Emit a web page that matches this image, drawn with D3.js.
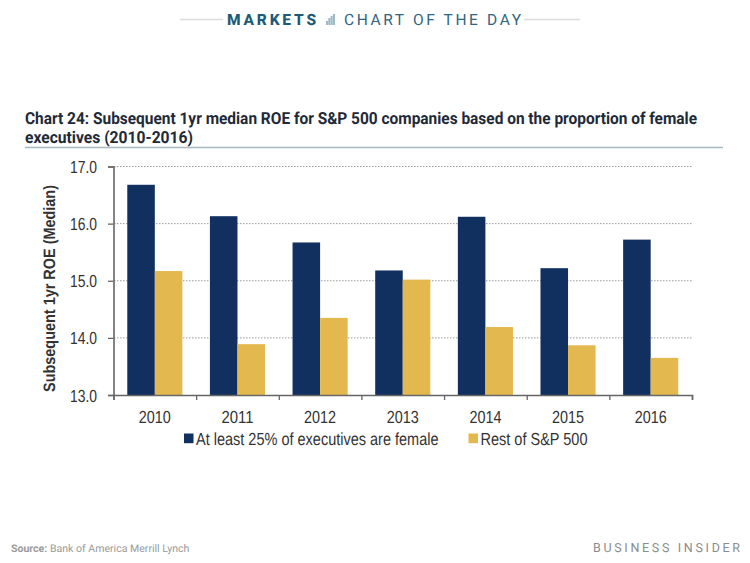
<!DOCTYPE html>
<html><head><meta charset="utf-8">
<script src="https://cdnjs.cloudflare.com/ajax/libs/d3/7.8.5/d3.min.js"></script>
<style>
html,body{margin:0;padding:0;background:#fff}
svg{display:block}
text{text-rendering:geometricPrecision}
</style></head><body><svg id="c" width="750" height="563"></svg>
<script>
const years=["2010","2011","2012","2013","2014","2015","2016"];
const femaleExecs=[16.68,16.13,15.67,15.18,16.12,15.22,15.72];
const restOfSP=[15.17,13.89,14.35,15.02,14.19,13.87,13.65];
const seriesNames=["At least 25% of executives are female","Rest of S&P 500"];
const seriesColors=["#11305f","#e3b94f"];
const yTicks=[13,14,15,16,17];
const titleLines=["Chart 24: Subsequent 1yr median ROE for S&P 500 companies based on the proportion of female","executives (2010-2016)"];

const svg=d3.select("#c");
const sans="'Liberation Sans',Arial,sans-serif";
const y=d3.scaleLinear().domain([13,17]).range([395,166.5]);
const x=d3.scaleBand().domain(years).range([113.5,692]).paddingInner(1/3).paddingOuter(1/6);
const inner=d3.scaleBand().domain([0,1]).range([0,x.bandwidth()]);
const edge=d3.scaleLinear().domain([0,7]).range([113.5,692]);

// squeeze a text horizontally to a target width, keeping its full height
function squeeze(node,px,py,w,rot){
  const n=node.getComputedTextLength();
  node.setAttribute("x",0);node.setAttribute("y",0);node.removeAttribute("dy");
  node.setAttribute("transform",`translate(${px},${py})${rot?` rotate(${rot})`:""} scale(${w/n},1)`);
}

// header
const hdr=svg.append("g");
hdr.append("line").attr("x1",180).attr("x2",223).attr("y1",19.5).attr("y2",19.5).attr("stroke","#dcdcdc").attr("stroke-width",1.5);
hdr.append("line").attr("x1",524).attr("x2",580).attr("y1",19.5).attr("y2",19.5).attr("stroke","#dcdcdc").attr("stroke-width",1.5);
hdr.append("text").attr("x",227).attr("y",25).attr("textLength",89).attr("lengthAdjust","spacing")
  .attr("font-family","Roboto,sans-serif").attr("font-weight",800).attr("font-size",15.5).attr("fill","#1d5a78").text("MARKETS");
const iconH=[4,7,9,11];
hdr.selectAll("rect.i").data(iconH).join("rect").attr("class","i")
  .attr("x",(d,i)=>326+i*2.3).attr("width",2.1).attr("y",d=>25-d).attr("height",d=>d).attr("fill","#9fb9c6");
hdr.append("text").attr("x",344).attr("y",25).attr("textLength",177).attr("lengthAdjust","spacing")
  .attr("font-family","Roboto,sans-serif").attr("font-weight",400).attr("font-size",15.5).attr("fill","#2f6580").text("CHART OF THE DAY");

// title
const titleW=[672,168];
svg.selectAll("text.t").data(titleLines).join("text").attr("class","t")
  .attr("font-family","Roboto,sans-serif").attr("font-weight",700).attr("font-size",16.6).attr("fill","#1f2a38").text(d=>d)
  .each(function(d,i){squeeze(this,25,123.5+i*19.5,titleW[i]);});
svg.append("line").attr("x1",25).attr("x2",723).attr("y1",147.5).attr("y2",147.5).attr("stroke","#a9b9c2").attr("stroke-width",1.5);

// grid
svg.append("g").selectAll("line").data(yTicks.slice(1)).join("line")
  .attr("x1",114).attr("x2",692).attr("y1",d=>y(d)).attr("y2",d=>y(d))
  .attr("stroke","#9a9a9a").attr("stroke-width",1).attr("stroke-dasharray","1.5 1.5");

// bars
const series=[femaleExecs,restOfSP];
series.forEach((vals,s)=>{
  svg.append("g").selectAll("rect").data(vals).join("rect")
    .attr("x",(d,i)=>x(years[i])+inner(s)).attr("width",inner.bandwidth())
    .attr("y",d=>y(d)).attr("height",d=>y(13)-y(d)).attr("fill",seriesColors[s]);
});

// axes
const ya=svg.append("g").attr("transform","translate(113.5,0)")
  .call(d3.axisLeft(y).tickValues(yTicks).tickFormat(d3.format(".1f")).tickSize(5.5));
ya.selectAll("text").attr("font-family",sans).attr("font-size",17.5).attr("fill","#333")
  .each(function(){this.setAttribute("dy","0");const w=this.getComputedTextLength();
    this.setAttribute("x",0);this.setAttribute("transform",`translate(-16.5,6) scale(${27/w},1)`);});
const xa=svg.append("g").attr("transform","translate(0,395)")
  .call(d3.axisBottom(x).tickSize(0));
xa.selectAll("text").attr("font-family",sans).attr("font-size",17.5).attr("fill","#333")
  .each(function(){const w=this.getComputedTextLength();
    this.setAttribute("y",0);this.removeAttribute("dy");this.setAttribute("transform",`translate(0,27.5) scale(${32/w},1)`);});
const xt=svg.append("g").attr("transform","translate(0,395)")
  .call(d3.axisBottom(edge).tickValues(d3.range(0,8)).tickFormat("").tickSize(5));
[ya,xa,xt].forEach(a=>{a.selectAll("path").attr("stroke","#666").attr("stroke-width",1.6);a.selectAll("line").attr("stroke","#666").attr("stroke-width",1.3);});
xa.select("path").remove();

// y title
svg.append("text").attr("text-anchor","middle")
  .attr("font-family",sans).attr("font-weight",700).attr("font-size",16.5).attr("fill","#333").text("Subsequent 1yr ROE (Median)")
  .each(function(){squeeze(this,54.5,288.5,207,-90);});

// legend
const legX=[184,468.5], legW=[242.5,107];
const leg=svg.append("g").selectAll("g").data(seriesNames).join("g");
leg.append("rect").attr("x",(d,i)=>legX[i]).attr("y",433.5).attr("width",9.5).attr("height",9.7).attr("fill",(d,i)=>seriesColors[i]);
leg.append("text").attr("font-family",sans).attr("font-size",17.5).attr("fill","#333").text(d=>d)
  .each(function(d,i){squeeze(this,legX[i]+12,445,legW[i]);});

// footer
const src=svg.append("text").attr("x",11).attr("y",552).attr("font-family","Roboto,sans-serif").attr("font-size",10.55).attr("fill","#9a9a9a");
src.append("tspan").attr("font-weight",700).text("Source:");
src.append("tspan").text(" Bank of America Merrill Lynch");
svg.append("text").attr("x",593).attr("y",552).attr("textLength",147).attr("lengthAdjust","spacing")
  .attr("font-family","Roboto,sans-serif").attr("font-size",12.5).attr("fill","#8c8c8c").text("BUSINESS INSIDER");
</script></body></html>
